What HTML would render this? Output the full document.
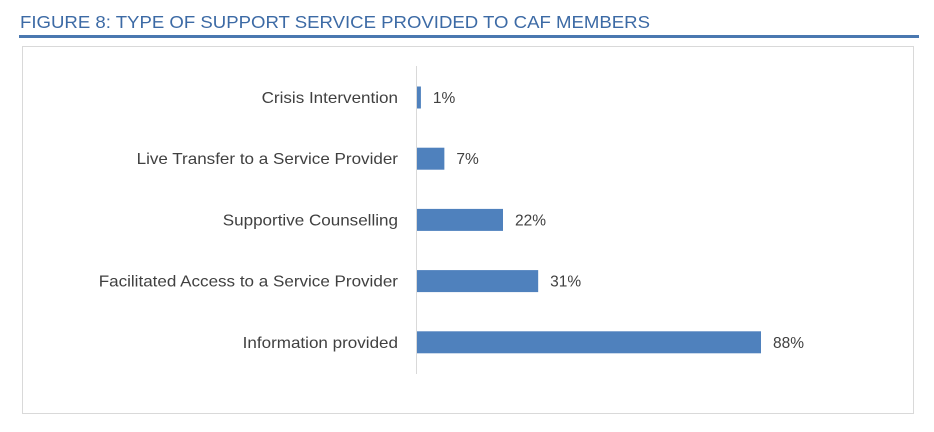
<!DOCTYPE html>
<html><head><meta charset="utf-8"><style>
body{margin:0;background:#fff;width:934px;height:427px;overflow:hidden;font-family:"Liberation Sans",sans-serif}
</style></head><body>
<svg id="chart" width="934" height="427">
<text x="20" y="28" font-size="17.5" fill="#3c6aa5" textLength="630" lengthAdjust="spacingAndGlyphs">FIGURE 8: TYPE OF SUPPORT SERVICE PROVIDED TO CAF MEMBERS</text>
<rect x="19" y="35" width="900" height="3" fill="#4a78b0"/>
<rect x="22.5" y="46.5" width="891" height="367" fill="none" stroke="#d9d9d9"/>
<line x1="416.5" y1="66" x2="416.5" y2="374" stroke="#d9d9d9"/>
<g id="bars"></g>
</svg>
<script>
const categories=["Crisis Intervention","Live Transfer to a Service Provider","Supportive Counselling","Facilitated Access to a Service Provider","Information provided"];
const values=[1,7,22,31,88];
const valueLabels=["1%","7%","22%","31%","88%"];
const ns="http://www.w3.org/2000/svg";
const g=document.getElementById('bars');
const x0=417, pxPer=344/88;
const yTop=97.5, step=61.2, bh=22;
function xs(v){return v*pxPer;}
function yc(i){return yTop+i*step;}
categories.forEach((c,i)=>{
  const y=yc(i);
  const r=document.createElementNS(ns,'rect');
  r.setAttribute('x',x0);r.setAttribute('y',y-bh/2);
  r.setAttribute('width',Math.max(xs(values[i]),3));r.setAttribute('height',bh);
  r.setAttribute('fill','#4f81bd');
  
  
  g.appendChild(r);
  const t=document.createElementNS(ns,'text');
  t.setAttribute('x',398);t.setAttribute('y',y+5.5);
  t.setAttribute('text-anchor','end');t.setAttribute('font-size','16');t.setAttribute('fill','#404040');
  t.textContent=c;
  
  
  g.appendChild(t);
  const L=t.getComputedTextLength();
  t.setAttribute('textLength',L*1.065);
  t.setAttribute('lengthAdjust','spacingAndGlyphs');
  const v=document.createElementNS(ns,'text');
  v.setAttribute('x',x0+Math.max(xs(values[i]),3)+12);v.setAttribute('y',y+5.5);
  v.setAttribute('font-size','15.5');v.setAttribute('fill','#404040');
  v.textContent=valueLabels[i];
  
  
  g.appendChild(v);
});
</script>
</body></html>
